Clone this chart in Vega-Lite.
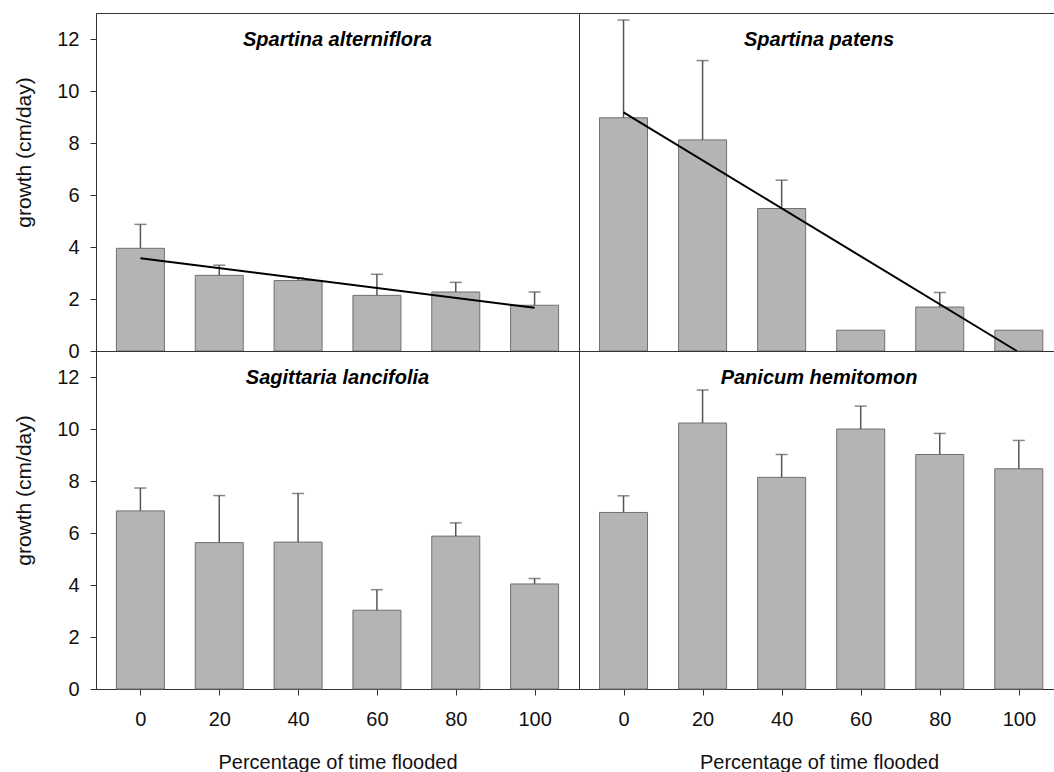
{
  "$schema": "https://vega.github.io/schema/vega-lite/v6.json",
  "padding": {"left": 13, "top": 12, "right": 0, "bottom": 0},
  "background": "white",
  "bounds": "flush",
  "columns": 2,
  "spacing": 0,
  "datasets": {
    "alt": [
      {"pct": 0, "growth": 3.95, "upper": 4.87},
      {"pct": 20, "growth": 2.91, "upper": 3.30},
      {"pct": 40, "growth": 2.71, "upper": 2.81},
      {"pct": 60, "growth": 2.14, "upper": 2.95},
      {"pct": 80, "growth": 2.27, "upper": 2.64},
      {"pct": 100, "growth": 1.76, "upper": 2.27}
    ],
    "pat": [
      {"pct": 0, "growth": 8.97, "upper": 12.73},
      {"pct": 20, "growth": 8.12, "upper": 11.17},
      {"pct": 40, "growth": 5.48, "upper": 6.57},
      {"pct": 60, "growth": 0.80, "upper": null},
      {"pct": 80, "growth": 1.69, "upper": 2.25},
      {"pct": 100, "growth": 0.80, "upper": null}
    ],
    "sag": [
      {"pct": 0, "growth": 6.85, "upper": 7.73},
      {"pct": 20, "growth": 5.63, "upper": 7.44},
      {"pct": 40, "growth": 5.65, "upper": 7.52},
      {"pct": 60, "growth": 3.03, "upper": 3.82},
      {"pct": 80, "growth": 5.88, "upper": 6.39},
      {"pct": 100, "growth": 4.04, "upper": 4.25}
    ],
    "pan": [
      {"pct": 0, "growth": 6.79, "upper": 7.43},
      {"pct": 20, "growth": 10.23, "upper": 11.50},
      {"pct": 40, "growth": 8.14, "upper": 9.02},
      {"pct": 60, "growth": 10.00, "upper": 10.88},
      {"pct": 80, "growth": 9.02, "upper": 9.83},
      {"pct": 100, "growth": 8.47, "upper": 9.56}
    ],
    "fit_alt": [
      {"pct": 0, "fit": 3.57},
      {"pct": 100, "fit": 1.66}
    ],
    "fit_pat": [
      {"pct": 0, "fit": 9.18},
      {"pct": 99.5, "fit": 0}
    ]
  },
  "concat": [
    {
      "width": 483, "height": 338,
      "title": {"text": "Spartina alterniflora"},
      "layer": [
        {"data": {"name": "alt"}, "mark": {"type": "bar", "size": 48, "color": "#b4b4b4", "stroke": "#707070", "strokeWidth": 1},
         "encoding": {
           "x": {"field": "pct", "type": "quantitative", "scale": {"domain": [-10, 110], "nice": false, "zero": false}, "axis": null},
           "y": {"field": "growth", "type": "quantitative", "scale": {"domain": [0, 13], "nice": false}, "title": "growth (cm/day)", "axis": {"values": [0, 2, 4, 6, 8, 10, 12]}}
         }},
        {"data": {"name": "alt"}, "transform": [{"filter": "isValid(datum.upper)"}], "mark": {"type": "rule", "color": "#555", "strokeWidth": 1.5},
         "encoding": {
           "x": {"field": "pct", "type": "quantitative"},
           "y": {"field": "growth", "type": "quantitative", "title": "growth (cm/day)"},
           "y2": {"field": "upper"}
         }},
        {"data": {"name": "alt"}, "transform": [{"filter": "isValid(datum.upper)"}], "mark": {"type": "tick", "orient": "horizontal", "size": 12, "thickness": 1.5, "color": "#555"},
         "encoding": {
           "x": {"field": "pct", "type": "quantitative"},
           "y": {"field": "upper", "type": "quantitative", "title": "growth (cm/day)"}
         }},
        {"data": {"name": "fit_alt"}, "mark": {"type": "line", "color": "#000", "strokeWidth": 2},
         "encoding": {
           "x": {"field": "pct", "type": "quantitative"},
           "y": {"field": "fit", "type": "quantitative", "title": "growth (cm/day)"}
         }}
      ]
    },
    {
      "width": 480, "height": 338,
      "title": {"text": "Spartina patens"},
      "layer": [
        {"data": {"name": "pat"}, "mark": {"type": "bar", "size": 48, "color": "#b4b4b4", "stroke": "#707070", "strokeWidth": 1},
         "encoding": {
           "x": {"field": "pct", "type": "quantitative", "scale": {"domain": [-10, 108.9], "nice": false, "zero": false}, "axis": null},
           "y": {"field": "growth", "type": "quantitative", "scale": {"domain": [0, 13], "nice": false}, "axis": null}
         }},
        {"data": {"name": "pat"}, "transform": [{"filter": "isValid(datum.upper)"}], "mark": {"type": "rule", "color": "#555", "strokeWidth": 1.5},
         "encoding": {
           "x": {"field": "pct", "type": "quantitative", "axis": null},
           "y": {"field": "growth", "type": "quantitative", "axis": null},
           "y2": {"field": "upper"}
         }},
        {"data": {"name": "pat"}, "transform": [{"filter": "isValid(datum.upper)"}], "mark": {"type": "tick", "orient": "horizontal", "size": 12, "thickness": 1.5, "color": "#555"},
         "encoding": {
           "x": {"field": "pct", "type": "quantitative", "axis": null},
           "y": {"field": "upper", "type": "quantitative", "axis": null}
         }},
        {"data": {"name": "fit_pat"}, "mark": {"type": "line", "color": "#000", "strokeWidth": 2},
         "encoding": {
           "x": {"field": "pct", "type": "quantitative", "axis": null},
           "y": {"field": "fit", "type": "quantitative", "axis": null}
         }}
      ]
    },
    {
      "width": 483, "height": 338,
      "title": {"text": "Sagittaria lancifolia"},
      "layer": [
        {"data": {"name": "sag"}, "mark": {"type": "bar", "size": 48, "color": "#b4b4b4", "stroke": "#707070", "strokeWidth": 1},
         "encoding": {
           "x": {"field": "pct", "type": "quantitative", "scale": {"domain": [-10, 110], "nice": false, "zero": false}, "title": "Percentage of time flooded", "axis": {"values": [0, 20, 40, 60, 80, 100]}},
           "y": {"field": "growth", "type": "quantitative", "scale": {"domain": [0, 13], "nice": false}, "title": "growth (cm/day)", "axis": {"values": [0, 2, 4, 6, 8, 10, 12]}}
         }},
        {"data": {"name": "sag"}, "transform": [{"filter": "isValid(datum.upper)"}], "mark": {"type": "rule", "color": "#555", "strokeWidth": 1.5},
         "encoding": {
           "x": {"field": "pct", "type": "quantitative", "title": "Percentage of time flooded"},
           "y": {"field": "growth", "type": "quantitative", "title": "growth (cm/day)"},
           "y2": {"field": "upper"}
         }},
        {"data": {"name": "sag"}, "transform": [{"filter": "isValid(datum.upper)"}], "mark": {"type": "tick", "orient": "horizontal", "size": 12, "thickness": 1.5, "color": "#555"},
         "encoding": {
           "x": {"field": "pct", "type": "quantitative", "title": "Percentage of time flooded"},
           "y": {"field": "upper", "type": "quantitative", "title": "growth (cm/day)"}
         }}
      ]
    },
    {
      "width": 480, "height": 338,
      "title": {"text": "Panicum hemitomon"},
      "layer": [
        {"data": {"name": "pan"}, "mark": {"type": "bar", "size": 48, "color": "#b4b4b4", "stroke": "#707070", "strokeWidth": 1},
         "encoding": {
           "x": {"field": "pct", "type": "quantitative", "scale": {"domain": [-10, 108.9], "nice": false, "zero": false}, "title": "Percentage of time flooded", "axis": {"values": [0, 20, 40, 60, 80, 100]}},
           "y": {"field": "growth", "type": "quantitative", "scale": {"domain": [0, 13], "nice": false}, "axis": null}
         }},
        {"data": {"name": "pan"}, "transform": [{"filter": "isValid(datum.upper)"}], "mark": {"type": "rule", "color": "#555", "strokeWidth": 1.5},
         "encoding": {
           "x": {"field": "pct", "type": "quantitative", "title": "Percentage of time flooded"},
           "y": {"field": "growth", "type": "quantitative", "axis": null},
           "y2": {"field": "upper"}
         }},
        {"data": {"name": "pan"}, "transform": [{"filter": "isValid(datum.upper)"}], "mark": {"type": "tick", "orient": "horizontal", "size": 12, "thickness": 1.5, "color": "#555"},
         "encoding": {
           "x": {"field": "pct", "type": "quantitative", "title": "Percentage of time flooded"},
           "y": {"field": "upper", "type": "quantitative", "axis": null}
         }}
      ]
    }
  ],
  "config": {
    "concat": {"spacing": 0},
    "view": {"stroke": "#333", "strokeWidth": 1},
    "axis": {
      "grid": false,
      "domainColor": "#333",
      "tickColor": "#333",
      "tickSize": 6,
      "labelFont": "Liberation Sans",
      "labelFontSize": 20,
      "labelColor": "#111",
      "titleFont": "Liberation Sans",
      "titleFontSize": 20,
      "titleFontWeight": "normal",
      "titleColor": "#111"
    },
    "axisY": {"labelPadding": 11, "titlePadding": 22, "titleY": 139, "titleFontSize": 21},
    "axisX": {"labelPadding": 14, "titlePadding": 23},
    "title": {
      "font": "Liberation Sans",
      "fontSize": 20,
      "fontWeight": "bold",
      "fontStyle": "italic",
      "color": "#000",
      "anchor": "middle",
      "frame": "group",
      "offset": -37
    }
  }
}
